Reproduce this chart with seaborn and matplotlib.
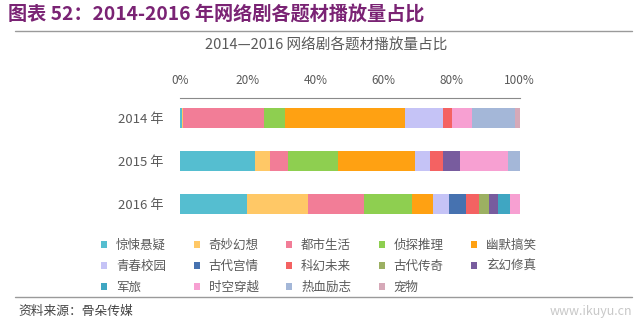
import numpy as np
import pandas as pd
import matplotlib
matplotlib.use("Agg")
import matplotlib.pyplot as plt
from matplotlib.patches import Patch
from matplotlib.lines import Line2D
import seaborn as sns

# ---- data -------------------------------------------------------------
years = ["2014 年", "2015 年", "2016 年"]
genres = ["惊悚悬疑", "奇妙幻想", "都市生活", "侦探推理", "幽默搞笑",
          "青春校园", "古代宫情", "科幻未来", "古代传奇", "玄幻修真",
          "军旅", "时空穿越", "热血励志", "宠物"]
share_2014 = [0.5, 0.5, 23.6, 6.4, 35.2, 11.3, 0, 2.5, 0, 0, 0, 5.9, 12.8, 1.3]
share_2015 = [22.1, 4.4, 5.4, 14.7, 22.7, 4.4, 0, 3.9, 0, 4.9, 0, 14.2, 3.3, 0]
share_2016 = [19.7, 17.9, 16.5, 14.3, 6.1, 4.7, 4.9, 3.9, 2.9, 2.9, 3.4, 2.8, 0, 0]
genre_colors = ["#55bed0", "#ffc866", "#f27d97", "#8ecf50", "#ffa112",
                "#c5c3f6", "#4672b0", "#f46262", "#9cb062", "#785c9e",
                "#3fa6c2", "#f7a0d2", "#a4b7d8", "#d6a9b8"]
tick_values = [0, 20, 40, 60, 80, 100]

# ---- long table with running totals for stacking ----------------------
rows = []
for year, shares in zip(years, [share_2014, share_2015, share_2016]):
    total = 0.0
    for g, s in zip(genres, shares):
        total += s
        rows.append({"year": year, "genre": g, "share": s, "end": total})
df = pd.DataFrame(rows)

sns.set_theme(style="white")
plt.rcParams["font.family"] = ["Noto Sans CJK SC", "DejaVu Sans"]

fig = plt.figure(figsize=(6.4, 3.25), dpi=100)
W, H = 640, 325
# axes box: x 180..519.5 px, y 98..225 px
ax = fig.add_axes([180 / W, 1 - 225 / H, 339.5 / W, 127 / H])

# draw from the outermost segment inwards so each later bar covers the tail
for g, c in reversed(list(zip(genres, genre_colors))):
    sns.barplot(data=df[df["genre"] == g], x="end", y="year", order=years,
                color=c, saturation=1, width=0.47, orient="h", ax=ax,
                linewidth=0, errorbar=None)

ax.set_xlim(0, 100)
ax.set_ylim(2.5, -0.48)
ax.set_xlabel("")
ax.set_ylabel("")

grey = "#5a5a5a"
for side in ["left", "right", "bottom"]:
    ax.spines[side].set_visible(False)
ax.spines["top"].set_color("#8a8a8a")
ax.spines["top"].set_linewidth(0.8)

ax.xaxis.tick_top()
ax.set_xticks(tick_values)
ax.set_xticklabels([f"{v}%" for v in tick_values])
ax.set_xticks([20, 60, 100], minor=True)
ax.tick_params(axis="x", which="major", length=0, pad=8, labelsize=8.5,
               colors=grey)
ax.tick_params(axis="x", which="minor", length=3, width=0.8, color="#8a8a8a",
               direction="out", top=True, bottom=False)
ax.tick_params(axis="y", length=0, pad=12, labelsize=9.5, colors=grey)

# ---- titles -----------------------------------------------------------
fig.text(8 / W, 1 - 15 / H, "图表 52：2014-2016 年网络剧各题材播放量占比",
         fontsize=13.8, fontweight="bold", color="#7a2374",
         ha="left", va="center")
fig.add_artist(Line2D([15 / W, 632 / W], [1 - 31 / H, 1 - 31 / H],
                      color="#9a9a9a", lw=1.0))
fig.text(326 / W, 1 - 46 / H, "2014—2016 网络剧各题材播放量占比",
         fontsize=10.5, color=grey, ha="center", va="center")

# ---- legend (row-major order across 5 columns) ------------------------
ncol = 5
handles = [Patch(facecolor=c, edgecolor="none") for c in genre_colors]
order = [r * ncol + col for col in range(ncol) for r in range(3)
         if r * ncol + col < len(genres)]
leg = fig.legend([handles[i] for i in order], [genres[i] for i in order],
                 ncol=ncol, loc="upper left",
                 bbox_to_anchor=(101 / W, 1 - 239 / H),
                 frameon=False, fontsize=9, handlelength=0.5,
                 handleheight=0.5, handletextpad=0.7, columnspacing=2.2,
                 labelspacing=0.62, borderaxespad=0, borderpad=0)
for t in leg.get_texts():
    t.set_color(grey)

# ---- footer -----------------------------------------------------------
fig.add_artist(Line2D([15 / W, 632 / W], [1 - 297 / H, 1 - 297 / H],
                      color="#9a9a9a", lw=1.0))
fig.text(18 / W, 1 - 311 / H, "资料来源：骨朵传媒", fontsize=9.2,
         color="#444444", ha="left", va="center")
fig.text(632 / W, 1 - 311 / H, "www.ikuyu.cn", fontsize=9,
         color="#c8c8c8", ha="right", va="center")

fig.savefig("out.png", dpi=100, facecolor="white")
